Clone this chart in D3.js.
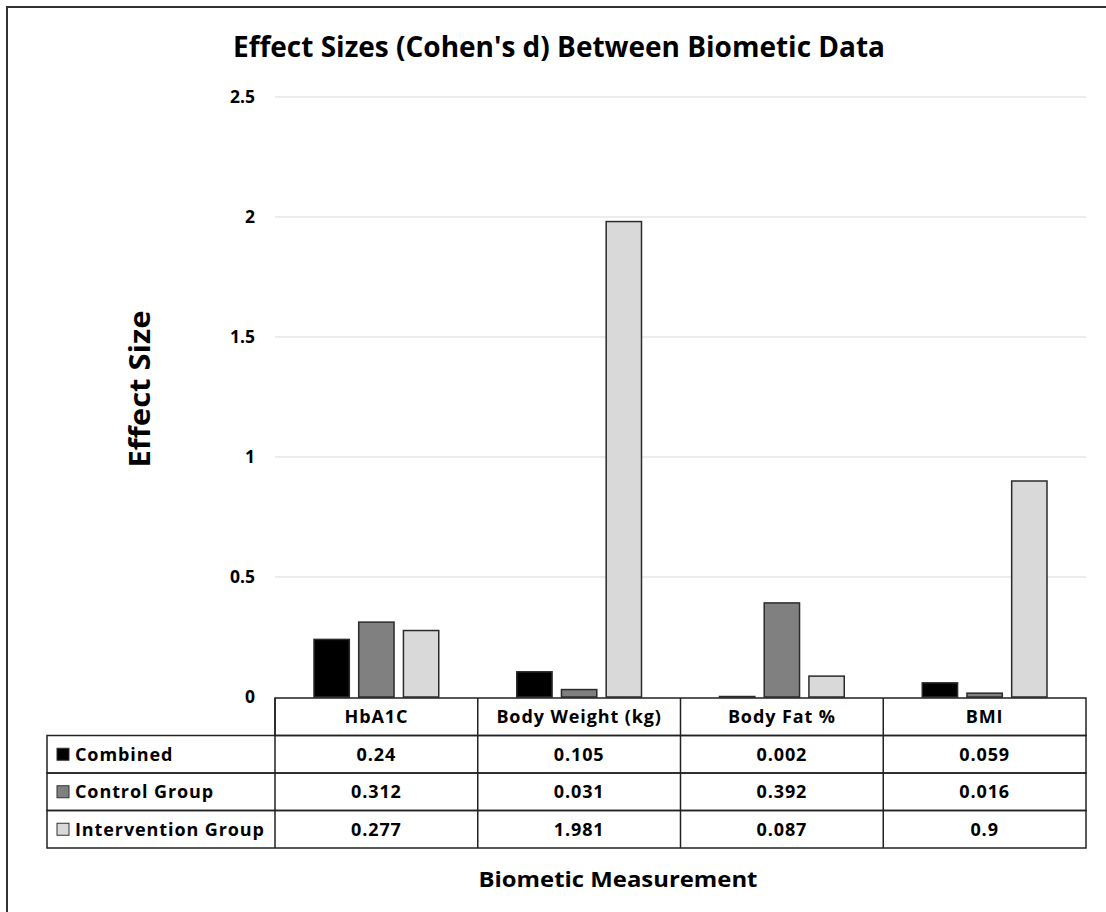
<!DOCTYPE html>
<html>
<head>
<meta charset="utf-8">
<script src="https://cdn.jsdelivr.net/npm/d3@7"></script>
<style>
  body { margin: 0; background: #fff; }
  text { font-family: "Open Sans", Lato, sans-serif; font-weight: bold; fill: #000; }
</style>
</head>
<body>
<svg id="chart" width="1106" height="912"></svg>
<script>
// data
const categories = ["HbA1C", "Body Weight (kg)", "Body Fat %", "BMI"];
const seriesNames = ["Combined", "Control Group", "Intervention Group"];
const combined = [0.24, 0.105, 0.002, 0.059];
const control = [0.312, 0.031, 0.392, 0.016];
const intervention = [0.277, 1.981, 0.087, 0.9];
const yTicks = [0, 0.5, 1, 1.5, 2, 2.5];

const seriesValues = [combined, control, intervention];
const colors = ["#000000", "#808080", "#d9d9d9"];

const svg = d3.select("#chart");

// outer frame
svg.append("rect")
  .attr("x", 7).attr("y", 7)
  .attr("width", 1120).attr("height", 930)
  .attr("fill", "none").attr("stroke", "#333").attr("stroke-width", 2);

const plotLeft = 275, plotRight = 1086, plotTop = 97, plotBottom = 697;

const x0 = d3.scaleBand().domain(categories).range([plotLeft, plotRight]).padding(0);
const x1 = d3.scaleBand().domain(seriesNames)
  .range([39, x0.bandwidth() - 39]).paddingInner(0.21).paddingOuter(0);
const y = d3.scaleLinear().domain([0, 2.5]).range([plotBottom, plotTop]);

// gridlines
svg.append("g").selectAll("line")
  .data(yTicks.filter(d => d > 0))
  .join("line")
  .attr("x1", plotLeft).attr("x2", plotRight)
  .attr("y1", d => y(d)).attr("y2", d => y(d))
  .attr("stroke", "#d9d9d9").attr("stroke-width", 1.2);

// y tick labels
svg.append("g").selectAll("text")
  .data(yTicks)
  .join("text")
  .attr("x", 255)
  .attr("y", d => y(d))
  .attr("dy", "0.35em")
  .attr("text-anchor", "end")
  .style("font-size", "17.5px")
  .text(d => d);

// bars
const groups = svg.append("g").selectAll("g")
  .data(categories)
  .join("g")
  .attr("transform", d => `translate(${x0(d)},0)`);

groups.selectAll("rect")
  .data((c, ci) => seriesNames.map((s, si) => ({ s: s, si: si, v: seriesValues[si][ci] })))
  .join("rect")
  .attr("x", d => x1(d.s))
  .attr("y", d => y(d.v))
  .attr("width", x1.bandwidth())
  .attr("height", d => plotBottom - y(d.v))
  .attr("fill", d => colors[d.si])
  .attr("stroke", "#2b2b2b")
  .attr("stroke-width", 1.5);

// data table
const tableLeft = 47;
const headerTop = 698, rowH = 37.5;
const table = svg.append("g");
const cellFont = "18px";
const cellSpacing = "0.9px";

// header row (categories only)
table.append("rect")
  .attr("x", plotLeft).attr("y", headerTop)
  .attr("width", plotRight - plotLeft).attr("height", rowH)
  .attr("fill", "none").attr("stroke", "#222").attr("stroke-width", 1.5);

// body rows
seriesNames.forEach((s, si) => {
  const top = headerTop + rowH * (si + 1);
  table.append("rect")
    .attr("x", tableLeft).attr("y", top)
    .attr("width", plotRight - tableLeft).attr("height", rowH)
    .attr("fill", "none").attr("stroke", "#222").attr("stroke-width", 1.5);
  // legend key
  table.append("rect")
    .attr("x", 57).attr("y", top + rowH / 2 - 6)
    .attr("width", 12).attr("height", 12)
    .attr("fill", colors[si]).attr("stroke", "#333").attr("stroke-width", 1);
  table.append("text")
    .attr("x", 75).attr("y", top + rowH / 2)
    .attr("dy", "0.35em")
    .style("font-size", cellFont)
    .style("letter-spacing", cellSpacing)
    .text(s);
  categories.forEach((c, ci) => {
    table.append("text")
      .attr("x", x0(c) + x0.bandwidth() / 2)
      .attr("y", top + rowH / 2)
      .attr("dy", "0.35em")
      .attr("text-anchor", "middle")
      .style("font-size", cellFont)
      .style("letter-spacing", cellSpacing)
      .text(seriesValues[si][ci]);
  });
});

// column lines
table.selectAll("line.col")
  .data(categories)
  .join("line")
  .attr("x1", d => x0(d)).attr("x2", d => x0(d))
  .attr("y1", headerTop).attr("y2", headerTop + rowH * 4)
  .attr("stroke", "#222").attr("stroke-width", 1.5);

table.selectAll("text.cat")
  .data(categories)
  .join("text")
  .attr("x", d => x0(d) + x0.bandwidth() / 2)
  .attr("y", headerTop + rowH / 2)
  .attr("dy", "0.35em")
  .attr("text-anchor", "middle")
  .style("font-size", cellFont)
  .style("letter-spacing", cellSpacing)
  .text(d => d);

// titles
svg.append("text")
  .attr("x", 559).attr("y", 47)
  .attr("dy", "0.35em")
  .attr("text-anchor", "middle")
  .attr("textLength", 652)
  .attr("lengthAdjust", "spacingAndGlyphs")
  .style("font-size", "28px")
  .text("Effect Sizes (Cohen's d) Between Biometic Data");

svg.append("text")
  .attr("transform", "translate(140,389) rotate(-90)")
  .attr("dy", "0.35em")
  .attr("text-anchor", "middle")
  .attr("textLength", 157)
  .attr("lengthAdjust", "spacingAndGlyphs")
  .style("font-size", "29px")
  .text("Effect Size");

svg.append("text")
  .attr("x", 618).attr("y", 880)
  .attr("dy", "0.35em")
  .attr("text-anchor", "middle")
  .attr("textLength", 279)
  .attr("lengthAdjust", "spacingAndGlyphs")
  .style("font-size", "21px")
  .text("Biometic Measurement");
</script>
</body>
</html>
